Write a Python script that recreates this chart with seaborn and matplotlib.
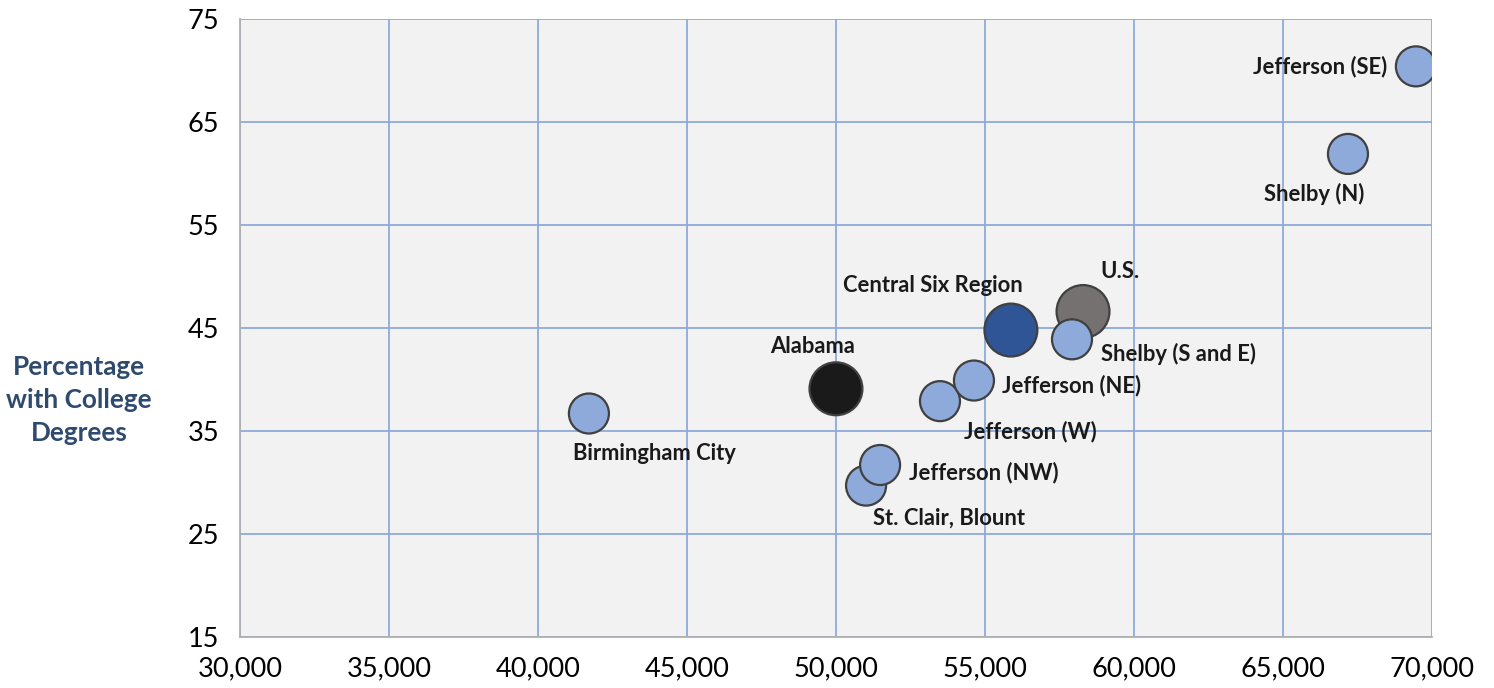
import numpy as np
import pandas as pd
import matplotlib
matplotlib.use("Agg")
import matplotlib.pyplot as plt
import seaborn as sns
from matplotlib.ticker import FuncFormatter, MultipleLocator

# median household income vs percentage with college degrees
names = ["Jefferson (SE)", "Shelby (N)", "U.S.", "Shelby (S and E)", "Central Six Region",
         "Jefferson (W)", "Jefferson (NE)", "Alabama", "Birmingham City",
         "St. Clair, Blount", "Jefferson (NW)"]
income = [69460, 67180, 58290, 57920, 55870, 53490, 54630, 50000, 41710, 51010, 51480]
college = [70.4, 61.9, 46.6, 43.9, 44.8, 37.9, 39.9, 39.1, 36.7, 29.7, 31.7]
group = ["area", "area", "us", "area", "region", "area", "area", "state", "area", "area", "area"]
yticks = [15, 25, 35, 45, 55, 65, 75]

colors = {"area": "#8eaadb", "region": "#2f5597", "us": "#767171", "state": "#1a1a1a"}
sizes = {"area": 830, "region": 1450, "us": 1450, "state": 1450}

# label offsets in pixels (dx, dy, ha)
offsets = {
    "Jefferson (SE)": (-29, 0, "right"),
    "Shelby (N)": (-34, -40, "center"),
    "U.S.": (37, 40, "center"),
    "Shelby (S and E)": (107, -15, "center"),
    "Central Six Region": (-78, 45, "center"),
    "Jefferson (W)": (90, -30, "center"),
    "Jefferson (NE)": (98, -5, "center"),
    "Alabama": (-23, 42, "center"),
    "Birmingham City": (66, -40, "center"),
    "St. Clair, Blount": (83, -33, "center"),
    "Jefferson (NW)": (104, -8, "center"),
}

df = pd.DataFrame({"name": names, "income": income, "college": college, "group": group})

sns.set_style("white")
plt.rcParams["font.family"] = ["Lato", "DejaVu Sans"]

fig = plt.figure(figsize=(14.94, 6.88), dpi=100)
ax = fig.add_axes([0.1606, 0.0741, 0.7979, 0.8983])
ax.set_facecolor("#f2f2f2")

sns.scatterplot(data=df, x="income", y="college", hue="group", palette=colors,
                size="group", sizes=sizes, edgecolor="#404040", linewidth=1.6,
                legend=False, ax=ax, zorder=3)

for n, x, y in zip(names, income, college):
    dx, dy, ha = offsets[n]
    ax.annotate(n, (x, y), xytext=(dx, dy), textcoords="offset pixels",
                ha=ha, va="center", fontsize=15.8, fontweight="bold", color="#1a1a1a")

ax.set_xlim(30000, 70000)
ax.set_ylim(15, 75)
ax.xaxis.set_major_locator(MultipleLocator(5000))
ax.set_yticks(yticks)
ax.xaxis.set_major_formatter(FuncFormatter(lambda v, p: f"{int(v):,}"))
ax.grid(True, color="#8eaadb", linewidth=1.3)
ax.set_axisbelow(True)
for s in ["top", "right"]:
    ax.spines[s].set_visible(False)
for s in ["left", "bottom"]:
    ax.spines[s].set_color("#b0b0b0")
    ax.spines[s].set_linewidth(1.3)
ax.tick_params(axis="both", length=0, labelsize=19.5, labelcolor="#000000")
ax.tick_params(axis="y", pad=15)
ax.tick_params(axis="x", pad=14)
ax.set_xlabel("")
ax.set_ylabel("")

fig.text(79 / 1494, 1 - 400 / 688, "Percentage\nwith College\nDegrees", ha="center", va="center",
         fontsize=18.8, fontweight="bold", color="#2e4a6e", linespacing=1.45)

fig.savefig("out.png", dpi=100)
